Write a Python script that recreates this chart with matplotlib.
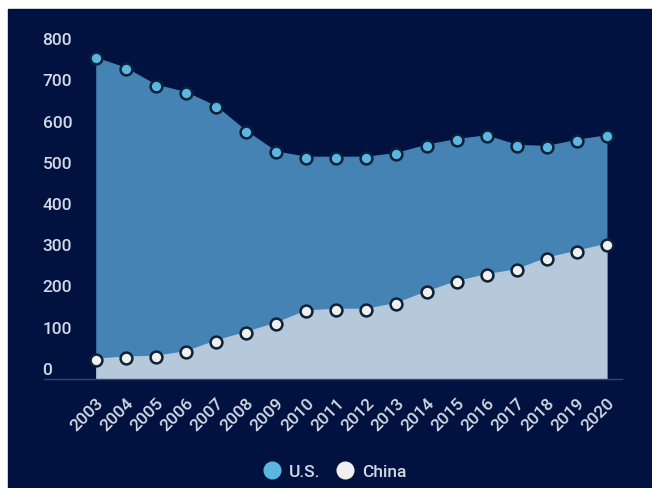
import matplotlib.pyplot as plt
from matplotlib.lines import Line2D

# values
years = list(range(2003, 2021))
us = [751, 726, 685, 667, 633, 573, 523, 510, 510, 510, 519, 539, 553, 562, 539, 536, 551, 562]
china = [20, 25, 27, 38, 64, 85, 107, 137, 141, 141, 155, 183, 208, 225, 237, 265, 282, 299]
y_ticks = [0, 100, 200, 300, 400, 500, 600, 700, 800]

BG = "#011240"
TEXT = "#d3dae6"
US_FILL = "#4683b5"
CN_FILL = "#b6c9da"
US_DOT = "#5cb6e2"
CN_DOT = "#f0f0ee"
EDGE = "#0d2138"

plt.rcParams["font.family"] = ["Roboto", "DejaVu Sans"]

fig = plt.figure(figsize=(6.52, 4.89), dpi=100, facecolor="white")
# dark panel, with a thin white margin at top and left
panel = plt.Rectangle((8 / 652, 0), 1, 1 - 10 / 489,
                      transform=fig.transFigure, color=BG, zorder=-10)
fig.add_artist(panel)

ax = fig.add_axes([44 / 652, 1 - 380 / 489, 578 / 652, 349 / 489])
ax.set_facecolor("none")
ax.set_zorder(1)

ymin, ymax = -27, 820
ax.fill_between(years, ymin, us, color=US_FILL, lw=0, zorder=1)
ax.fill_between(years, ymin, china, color=CN_FILL, lw=0, zorder=2)
ax.plot(years, us, color=US_FILL, lw=1.5, zorder=3)
ax.plot(years, china, color=CN_FILL, lw=1.5, zorder=3)
ax.plot(years, us, ls="none", marker="o", ms=8.5, mfc=US_DOT, mec=EDGE, mew=1.8, zorder=4)
ax.plot(years, china, ls="none", marker="o", ms=8.5, mfc=CN_DOT, mec=EDGE, mew=1.8, zorder=4)

ax.set_xlim(2003 - 1.72, 2020.5)
ax.set_ylim(ymin, ymax)

for s in ["top", "right", "left"]:
    ax.spines[s].set_visible(False)
ax.spines["bottom"].set_color("#34466e")
ax.spines["bottom"].set_linewidth(1)

ax.set_yticks(y_ticks)
ax.set_yticklabels([str(v) for v in y_ticks], ha="left", color=TEXT, fontsize=12.5, fontweight="medium")
ax.tick_params(axis="y", length=0, pad=1)

ax.set_xticks(years)
ax.set_xticklabels([str(y) for y in years], rotation=45, ha="right", va="top",
                   rotation_mode="anchor", color=TEXT, fontsize=12.5, fontweight="medium")
ax.tick_params(axis="x", length=0, pad=11)

handles = [
    Line2D([], [], ls="none", marker="o", ms=12, mfc=US_DOT, mec=US_DOT, label="U.S."),
    Line2D([], [], ls="none", marker="o", ms=12, mfc=CN_DOT, mec=CN_DOT, label="China"),
]
fig.legend(handles=handles, loc="center", bbox_to_anchor=(0.512, 17 / 489), ncol=2,
           frameon=False, labelcolor=TEXT, handletextpad=0.4,
           columnspacing=0.8, handlelength=1.2, prop={"weight": "medium", "size": 12.5})

fig.savefig("out.png", dpi=100, facecolor=fig.get_facecolor())
